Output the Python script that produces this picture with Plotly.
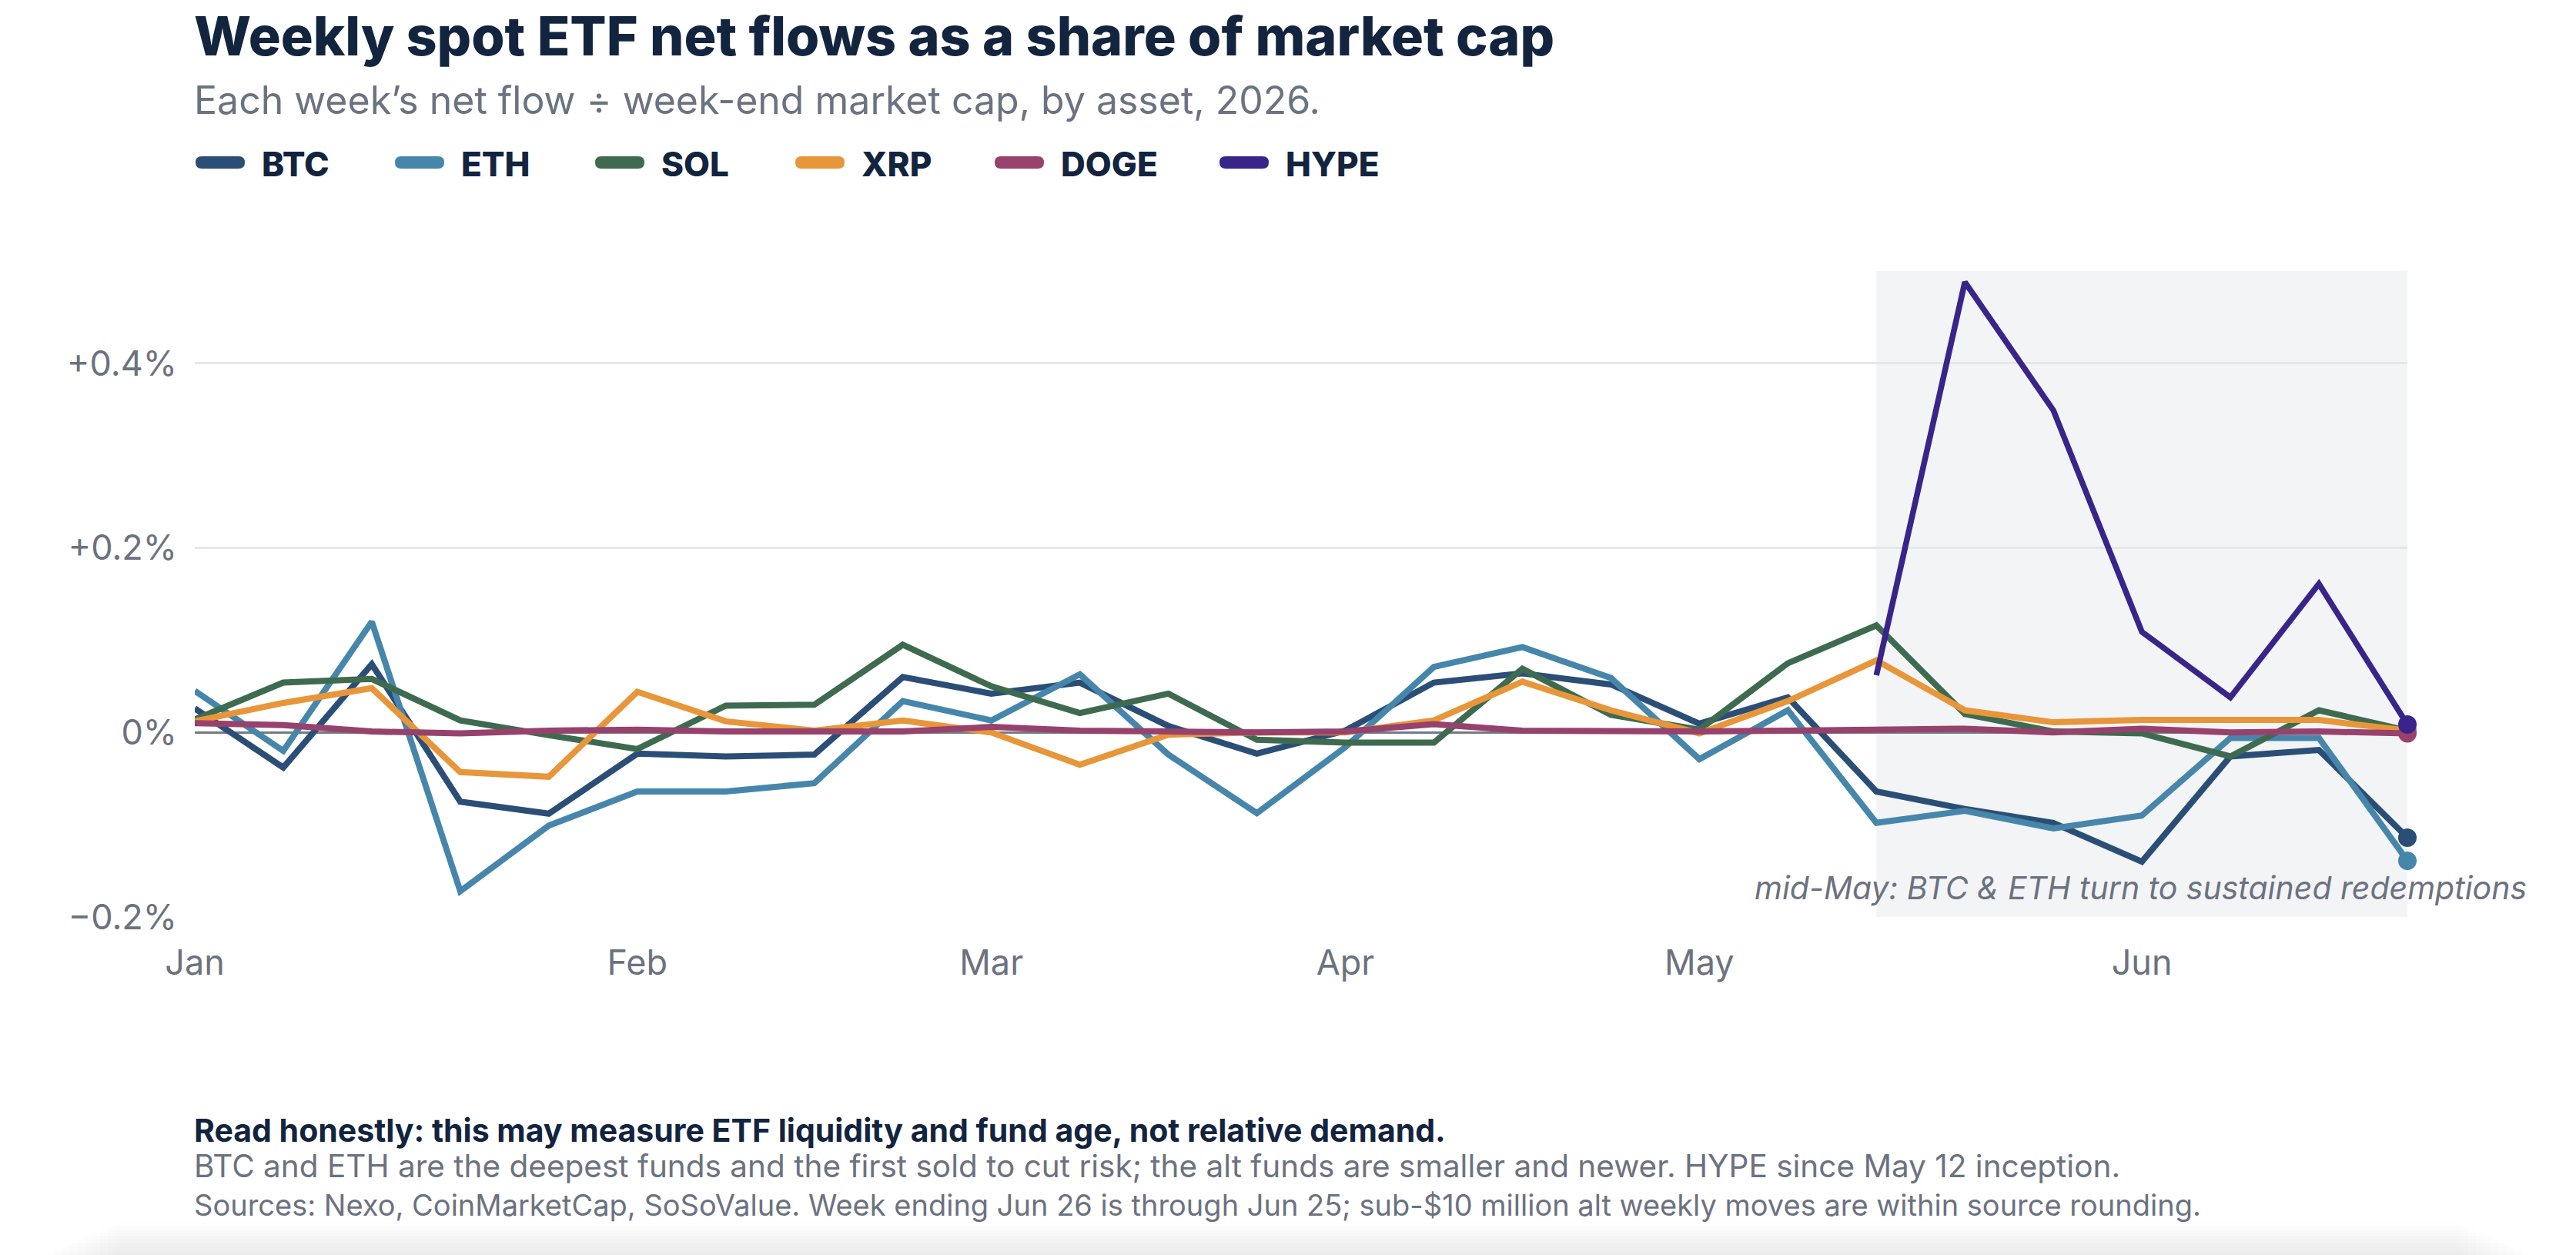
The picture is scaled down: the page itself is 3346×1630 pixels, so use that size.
import plotly.graph_objects as go

# ---------------- data ----------------
weeks = ["2026-01-02", "2026-01-09", "2026-01-16", "2026-01-23", "2026-01-30",
         "2026-02-06", "2026-02-13", "2026-02-20", "2026-02-27",
         "2026-03-06", "2026-03-13", "2026-03-20", "2026-03-27",
         "2026-04-03", "2026-04-10", "2026-04-17", "2026-04-24",
         "2026-05-01", "2026-05-08", "2026-05-15", "2026-05-22", "2026-05-29",
         "2026-06-05", "2026-06-12", "2026-06-19", "2026-06-26"]

btc = [0.026, -0.038, 0.074, -0.075, -0.088, -0.023, -0.026, -0.024, 0.060, 0.042,
       0.054, 0.007, -0.023, 0.002, 0.054, 0.064, 0.052, 0.0095, 0.038, -0.064,
       -0.083, -0.098, -0.140, -0.026, -0.019, -0.114]
eth = [0.045, -0.020, 0.120, -0.172, -0.101, -0.064, -0.064, -0.055, 0.034, 0.013,
       0.063, -0.024, -0.0875, -0.016, 0.071, 0.0925, 0.059, -0.029, 0.024, -0.098,
       -0.085, -0.104, -0.090, -0.006, -0.006, -0.139]
sol = [0.014, 0.054, 0.058, 0.013, -0.003, -0.018, 0.029, 0.030, 0.095, 0.050,
       0.021, 0.042, -0.008, -0.011, -0.011, 0.069, 0.019, 0.003, 0.075, 0.116,
       0.020, 0.001, -0.001, -0.026, 0.024, 0.002]
xrp = [0.012, 0.032, 0.048, -0.043, -0.048, 0.044, 0.012, 0.002, 0.013, 0.000,
       -0.035, -0.0025, 0.000, 0.000, 0.013, 0.055, 0.024, -0.001, 0.034, 0.078,
       0.024, 0.011, 0.0135, 0.0135, 0.0135, 0.002]
doge = [0.010, 0.008, 0.001, -0.001, 0.002, 0.003, 0.001, 0.001, 0.001, 0.006,
        0.002, 0.001, 0.000, 0.001, 0.009, 0.002, 0.001, 0.001, 0.002, 0.003,
        0.004, 0.000, 0.004, 0.000, 0.001, -0.001]
hype = [None] * 19 + [0.062, 0.488, 0.349, 0.109, 0.038, 0.161, 0.0085]

assets = ["BTC", "ETH", "SOL", "XRP", "DOGE", "HYPE"]
series = [btc, eth, sol, xrp, doge, hype]
colors = ["#2b4e77", "#4786ab", "#3e6b4f", "#e8963a", "#97426d", "#392489"]

month_ticks = ["2026-01-02", "2026-02-06", "2026-03-06", "2026-04-03", "2026-05-01", "2026-06-05"]
month_labels = ["Jan", "Feb", "Mar", "Apr", "May", "Jun"]

y_ticks = [-0.2, 0, 0.2, 0.4]
y_labels = ["\u22120.2%", "0%", "+0.2%", "+0.4%"]

shade_start = "2026-05-15"
shade_end = "2026-06-26"

# ---------------- style ----------------
FONT = "Inter"
NAVY = "#13243f"
GRAY = "#6b7280"
W, H = 3346, 1630
L, R, T, B = 253, 219, 352, 439
PW, PH = W - L - R, H - T - B


def px_x(px):
    return (px - L) / PW


def px_y(py):
    return (H - B - py) / PH


fig = go.Figure()

for name, vals, col in zip(assets, series, colors):
    n = len(vals)
    fig.add_trace(go.Scatter(
        x=weeks, y=vals, name=name, mode="lines",
        line=dict(color=col, width=7.5 if name == "HYPE" else 8),
        showlegend=False, connectgaps=False, cliponaxis=False,
    ))
    fig.add_trace(go.Scatter(
        x=[weeks[-1]], y=[vals[-1]], name=name, mode="markers",
        marker=dict(size=24, color=col, line=dict(width=0), opacity=1),
        showlegend=False, cliponaxis=False,
    ))

shapes = [dict(type="rect", xref="x", yref="paper", x0=shade_start, x1=shade_end,
               y0=0, y1=1, fillcolor="#f3f4f6", line=dict(width=0), layer="below")]

# soft card shadow at the bottom edge
for k in range(10):
    y0 = 1588 + k * 4.4
    inset = 150 - k * 10
    shapes.append(dict(type="rect", xref="paper", yref="paper",
                       x0=px_x(inset), x1=px_x(W - inset), y0=px_y(H + 2), y1=px_y(y0),
                       fillcolor="rgba(0,0,0,0.009)", line=dict(width=0), layer="below"))

annotations = []
# Title / subtitle
annotations.append(dict(xref="paper", yref="paper", x=px_x(250), y=px_y(47),
                        xanchor="left", yanchor="middle", showarrow=False,
                        text="Weekly spot ETF net flows as a share of market cap",
                        font=dict(family=FONT, size=70, color=NAVY, weight=800)))
annotations.append(dict(xref="paper", yref="paper", x=px_x(250), y=px_y(130),
                        xanchor="left", yanchor="middle", showarrow=False,
                        text="Each week\u2019s net flow \u00f7 week-end market cap, by asset, 2026.",
                        font=dict(family=FONT, size=50, color=GRAY)))

# Legend (manual)
leg_y = 211
leg_x = [254, 513, 773, 1033, 1292, 1584]
for name, col, x0 in zip(assets, colors, leg_x):
    x1 = x0 + 64
    r = 8
    yt, yb = leg_y - r, leg_y + r
    pts = [
        f"M{px_x(x0 + r)},{px_y(yt)}",
        f"L{px_x(x1 - r)},{px_y(yt)}",
        f"Q{px_x(x1)},{px_y(yt)} {px_x(x1)},{px_y(leg_y)}",
        f"Q{px_x(x1)},{px_y(yb)} {px_x(x1 - r)},{px_y(yb)}",
        f"L{px_x(x0 + r)},{px_y(yb)}",
        f"Q{px_x(x0)},{px_y(yb)} {px_x(x0)},{px_y(leg_y)}",
        f"Q{px_x(x0)},{px_y(yt)} {px_x(x0 + r)},{px_y(yt)}",
        "Z",
    ]
    shapes.append(dict(type="path", xref="paper", yref="paper", path=" ".join(pts),
                       fillcolor=col, line=dict(width=0), layer="above"))
    annotations.append(dict(xref="paper", yref="paper", x=px_x(x0 + 84), y=px_y(leg_y + 2),
                            xanchor="left", yanchor="middle", showarrow=False, text=name,
                            font=dict(family=FONT, size=44, color=NAVY, weight=800)))

# In-plot note
annotations.append(dict(xref="paper", yref="paper", x=px_x(3284), y=px_y(1153),
                        xanchor="right", yanchor="middle", showarrow=False,
                        text="<i>mid-May: BTC &amp; ETH turn to sustained redemptions</i>",
                        font=dict(family=FONT, size=41, color=GRAY)))

# Footnotes
annotations.append(dict(xref="paper", yref="paper", x=px_x(250), y=px_y(1468),
                        xanchor="left", yanchor="middle", showarrow=False,
                        text="<b>Read honestly: this may measure ETF liquidity and fund age, not relative demand.</b>",
                        font=dict(family=FONT, size=41, color=NAVY)))
annotations.append(dict(xref="paper", yref="paper", x=px_x(250), y=px_y(1514),
                        xanchor="left", yanchor="middle", showarrow=False,
                        text="BTC and ETH are the deepest funds and the first sold to cut risk; the alt funds are smaller and newer. HYPE since May 12 inception.",
                        font=dict(family=FONT, size=40.5, color=GRAY)))
annotations.append(dict(xref="paper", yref="paper", x=px_x(250), y=px_y(1565),
                        xanchor="left", yanchor="middle", showarrow=False,
                        text="Sources: Nexo, CoinMarketCap, SoSoValue. Week ending Jun 26 is through Jun 25; sub-$10 million alt weekly moves are within source rounding.",
                        font=dict(family=FONT, size=38, color=GRAY)))

fig.update_layout(
    width=W, height=H,
    margin=dict(l=L, r=R, t=T, b=B, pad=0),
    paper_bgcolor="white", plot_bgcolor="white",
    font=dict(family=FONT, color=GRAY),
    showlegend=False,
    shapes=shapes, annotations=annotations,
    xaxis=dict(type="date", range=[weeks[0], weeks[-1]], tickvals=month_ticks,
               ticktext=month_labels, showgrid=False, zeroline=False, showline=False,
               ticks="", tickfont=dict(family=FONT, size=45, color=GRAY),
               ticklabelstandoff=29, fixedrange=True),
    yaxis=dict(range=[-0.2, 0.5], tickvals=y_ticks, ticktext=y_labels,
               showgrid=True, gridcolor="#e5e7eb", gridwidth=3,
               zeroline=True, zerolinecolor="#737a85", zerolinewidth=3,
               showline=False, ticks="", tickfont=dict(family=FONT, size=45, color=GRAY),
               ticklabelstandoff=22, fixedrange=True),
    hovermode=False,
)

fig.write_html("out.html", config=dict(displayModeBar=False))
